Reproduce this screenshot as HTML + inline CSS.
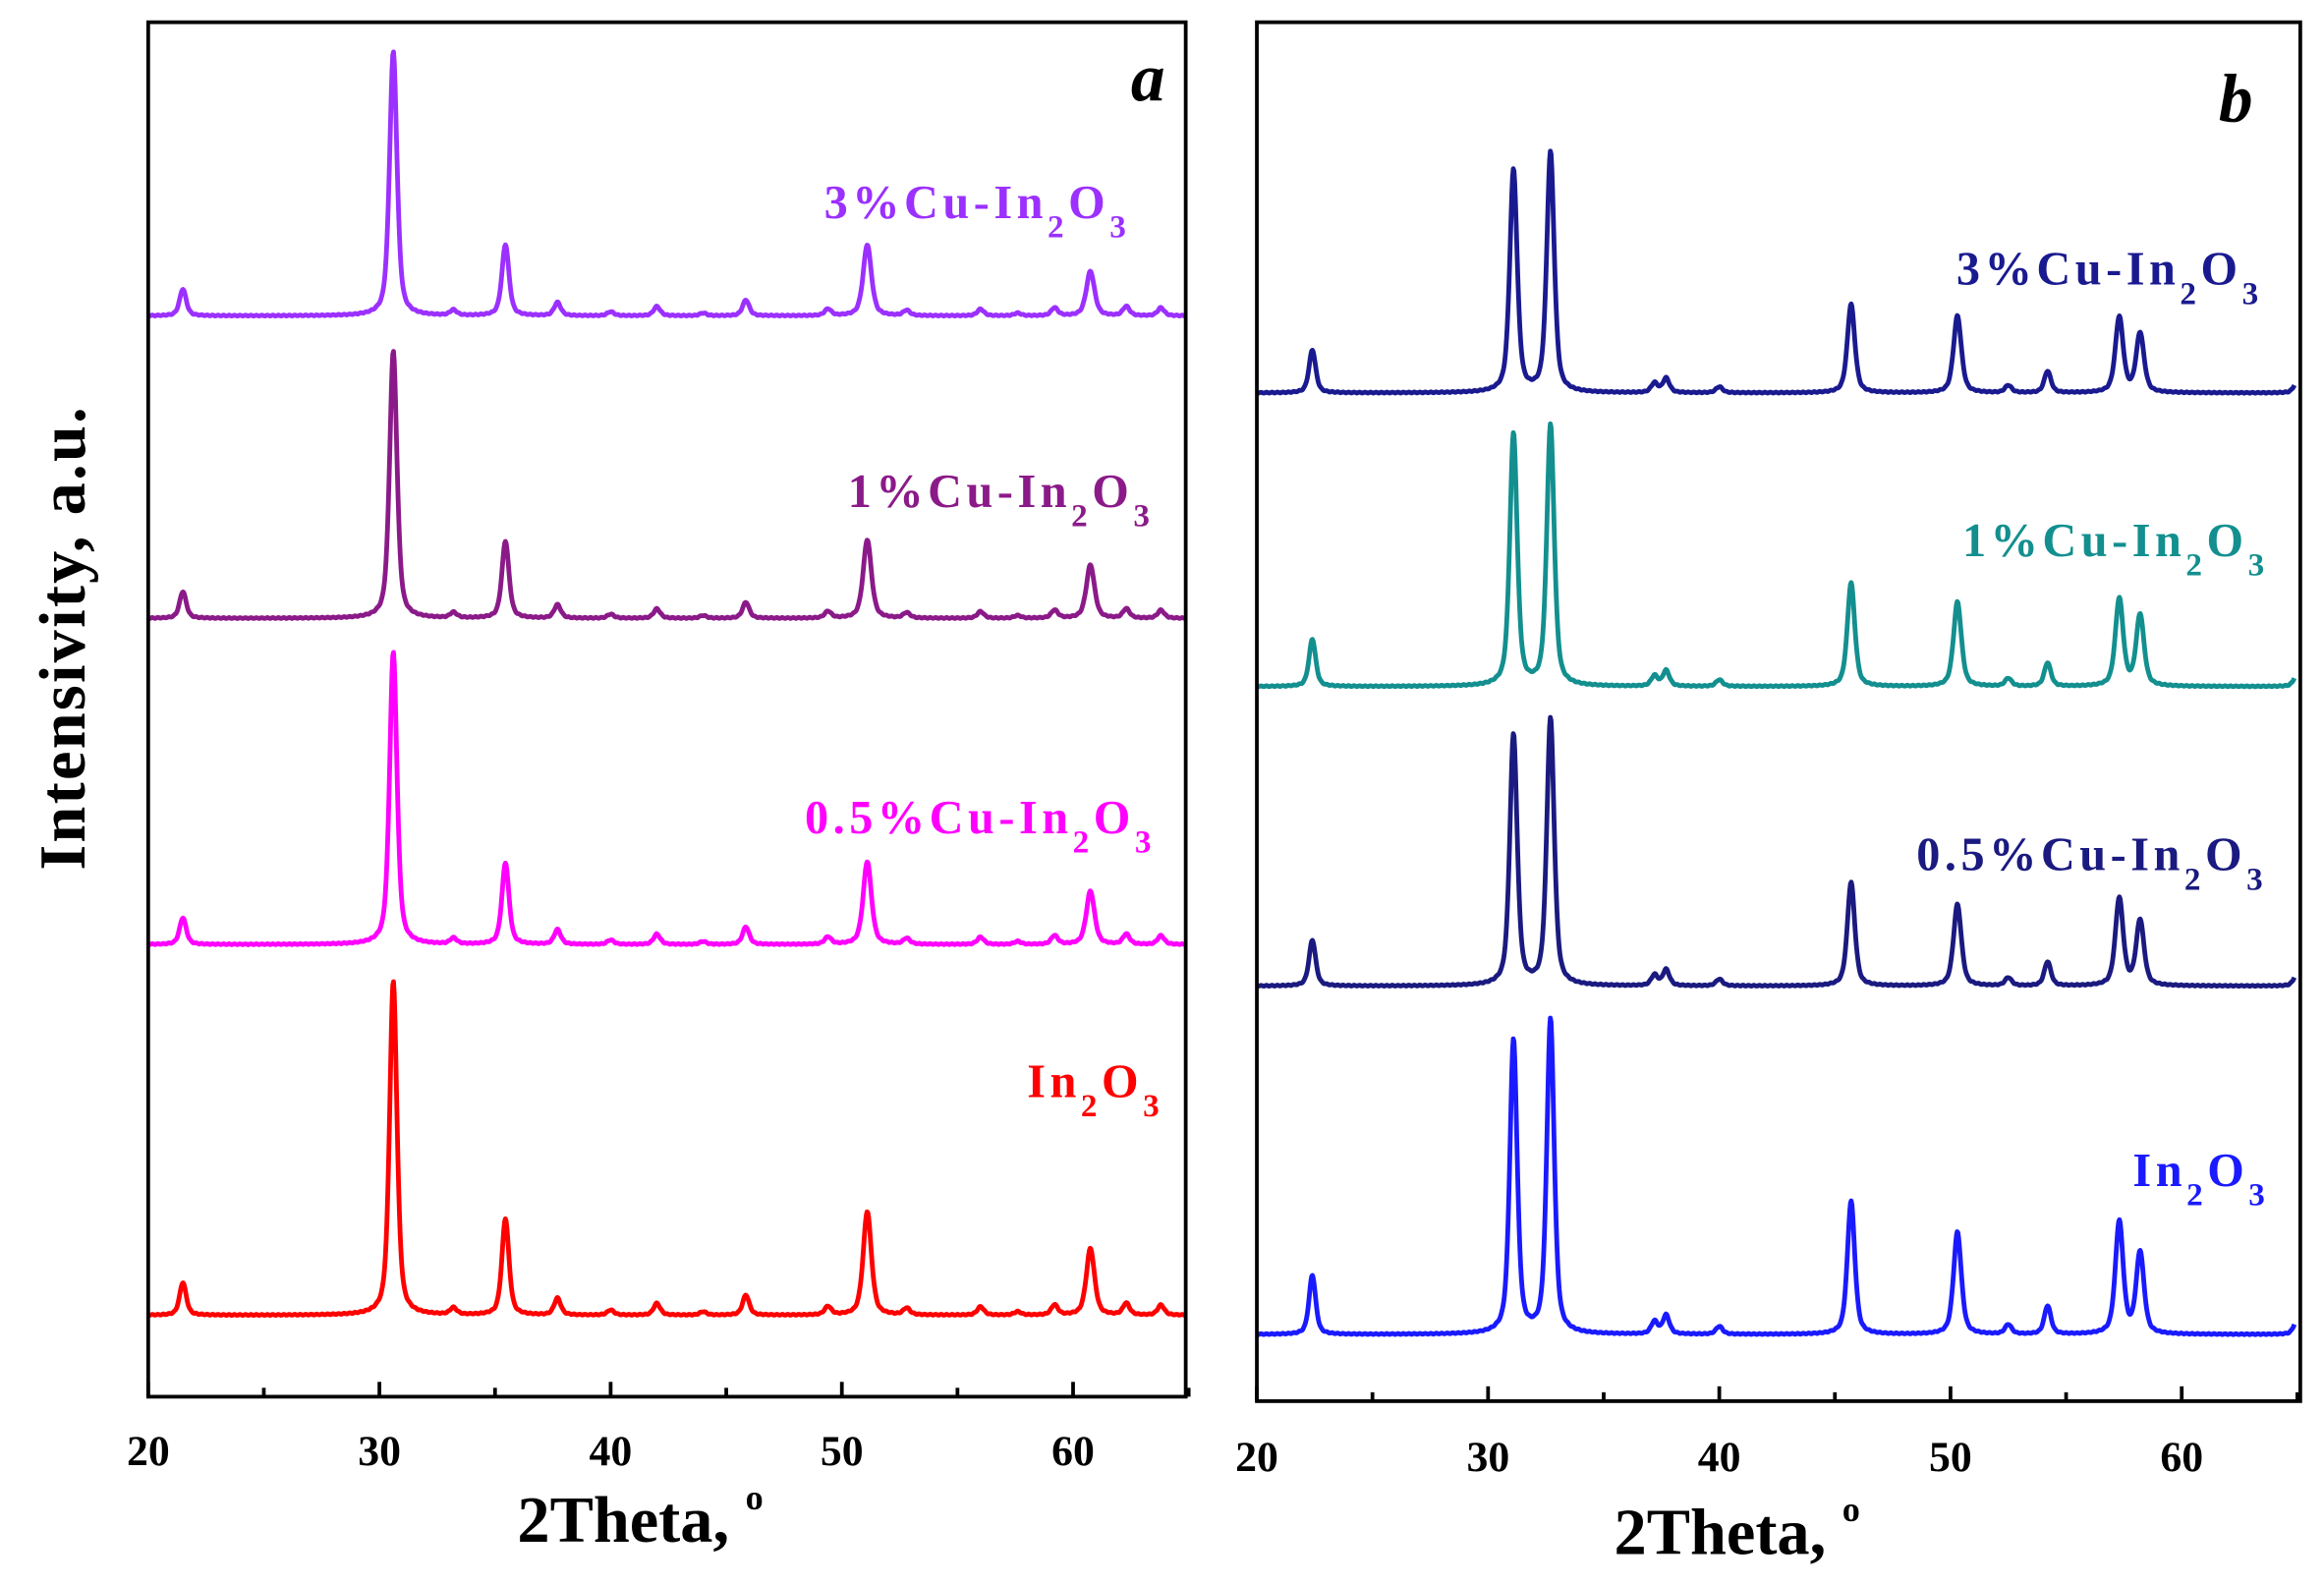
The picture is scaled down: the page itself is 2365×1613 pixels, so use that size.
<!DOCTYPE html>
<html><head><meta charset="utf-8">
<style>
html,body{margin:0;padding:0;background:#fff;}
svg{display:block;}
text{font-family:"Liberation Serif",serif;font-weight:bold;}
</style></head>
<body>
<svg id="s" width="2365" height="1613" viewBox="0 0 1568 1069" preserveAspectRatio="none" xmlns="http://www.w3.org/2000/svg">
<rect width="1568" height="1069" fill="#fff"/>
<g id="curves"></g>
<rect x="100" y="15" width="700" height="927" fill="none" stroke="#000" stroke-width="2.5"/>
<rect x="848" y="15" width="704" height="930" fill="none" stroke="#000" stroke-width="2.5"/>
<g id="ticks" stroke="#000" stroke-width="2.5"></g>
<g font-size="29" text-anchor="middle">
<text x="100" y="988">20</text><text x="256" y="988">30</text><text x="412" y="988">40</text><text x="568" y="988">50</text><text x="724" y="988">60</text>
<text x="848" y="992">20</text><text x="1004" y="992">30</text><text x="1160" y="992">40</text><text x="1316" y="992">50</text><text x="1472" y="992">60</text>
</g>
<text x="432" y="1040" font-size="44" text-anchor="middle">2Theta, <tspan dy="-22" font-size="24">o</tspan></text>
<text x="1172" y="1048" font-size="44" text-anchor="middle">2Theta, <tspan dy="-22" font-size="24">o</tspan></text>
<text transform="translate(57,430) rotate(-90)" font-size="44" letter-spacing="1.5" text-anchor="middle">Intensivity, a.u.</text>
<text x="763" y="68" font-size="46" font-style="italic">a</text>
<text x="1497" y="82" font-size="46" font-style="italic">b</text>
<g font-size="32" letter-spacing="3">
<text x="556" y="147" fill="#9b30ff">3%Cu-In<tspan dy="13" font-size="22">2</tspan><tspan dy="-13">O</tspan><tspan dy="13" font-size="22">3</tspan></text>
<text x="572" y="342" fill="#8b1a89">1%Cu-In<tspan dy="13" font-size="22">2</tspan><tspan dy="-13">O</tspan><tspan dy="13" font-size="22">3</tspan></text>
<text x="543" y="562" fill="#ff00ff">0.5%Cu-In<tspan dy="13" font-size="22">2</tspan><tspan dy="-13">O</tspan><tspan dy="13" font-size="22">3</tspan></text>
<text x="693" y="740" fill="#ff0000">In<tspan dy="13" font-size="22">2</tspan><tspan dy="-13">O</tspan><tspan dy="13" font-size="22">3</tspan></text>
<text x="1320" y="192" fill="#1a1a90">3%Cu-In<tspan dy="13" font-size="22">2</tspan><tspan dy="-13">O</tspan><tspan dy="13" font-size="22">3</tspan></text>
<text x="1324" y="375" fill="#138f8f">1%Cu-In<tspan dy="13" font-size="22">2</tspan><tspan dy="-13">O</tspan><tspan dy="13" font-size="22">3</tspan></text>
<text x="1293" y="587" fill="#1a1a80">0.5%Cu-In<tspan dy="13" font-size="22">2</tspan><tspan dy="-13">O</tspan><tspan dy="13" font-size="22">3</tspan></text>
<text x="1439" y="800" fill="#1a1aff">In<tspan dy="13" font-size="22">2</tspan><tspan dy="-13">O</tspan><tspan dy="13" font-size="22">3</tspan></text>
</g>
</svg>
<script>
var NS="http://www.w3.org/2000/svg";
var tk=document.getElementById("ticks");
function line(x1,y1,x2,y2){var l=document.createElementNS(NS,"line");l.setAttribute("x1",x1);l.setAttribute("y1",y1);l.setAttribute("x2",x2);l.setAttribute("y2",y2);tk.appendChild(l);}
[[100,942],[848,945]].forEach(function(p){for(var d=20;d<=65;d+=5){var x=p[0]+(d-20)*15.6;var len=(d%10==0)?10:6;line(x,p[1],x,p[1]-len);}});
var cg=document.getElementById("curves");
function curve(x0,base,peaks,color){
 var d="";for(var px=0;px<=700;px+=0.5){var t=20+px/15.6;var y=base;
  for(var i=0;i<peaks.length;i++){var c=peaks[i][0],h=base-peaks[i][1],g=peaks[i][2]||0.17;var u=(t-c)/g;y-=h*(0.55/(1+u*u)+0.45*Math.exp(-0.69*u*u));}
  y+=Math.sin(px*1.7)*0.3;
  d+=(px==0?"M":"L")+(x0+px).toFixed(1)+","+y.toFixed(1);}
 var p=document.createElementNS(NS,"path");p.setAttribute("d",d);p.setAttribute("fill","none");p.setAttribute("stroke",color);p.setAttribute("stroke-width","3.2");p.setAttribute("stroke-linejoin","round");cg.appendChild(p);}
function A(base,main,p35,p51,p60,p21,col){
 var sm=function(f){return base-(base-main)*f;};
 curve(100,base,[[21.5,p21],[30.6,main,0.19],[33.2,sm(0.02)],[35.45,p35,0.18],[37.7,sm(0.05)],[40,sm(0.015)],[42,sm(0.035)],[44,sm(0.01)],[45.85,sm(0.06)],[49.4,sm(0.025)],[51.1,p51,0.21],[52.8,sm(0.02)],[56,sm(0.025)],[57.6,sm(0.01)],[59.2,sm(0.03)],[60.75,p60,0.21],[62.3,sm(0.035)],[63.8,sm(0.03)]],col);}
A(213,35,165,165,183,195,"#9b30ff");
A(417,237,365,364,381,399,"#8b1a89");
A(637,440,582,581,601,619,"#ff00ff");
A(887,662,822,817,842,865,"#ff0000");
function B(base,a,b,c22,c45,c50,c57,c58,col){var sm=function(f){return base-(base-b)*f;};
 curve(848,base,[[22.4,c22],[31.1,a,0.19],[32.7,b,0.19],[37.2,sm(0.04)],[37.7,sm(0.06)],[40,sm(0.025)],[45.7,c45,0.19],[50.3,c50,0.2],[52.5,sm(0.03)],[54.2,sm(0.09)],[57.3,c57,0.2],[58.2,c58,0.2],[65,sm(0.05)]],col);}
B(265,115,103,236,205,213,214,225,"#1a1a90");
B(463,293,287,431,393,406,404,415,"#138f8f");
B(665,496,485,634,595,610,606,621,"#1a1a80");
B(900,702,688,860,810,831,824,845,"#1a1aff");
</script>
</body></html>
